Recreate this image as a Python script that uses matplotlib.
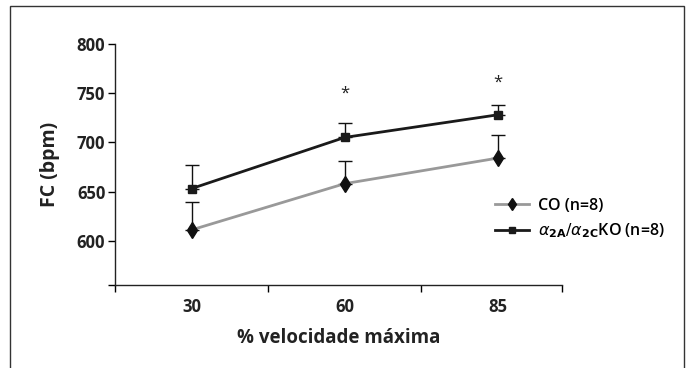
import numpy as np
import matplotlib.pyplot as plt
from matplotlib.patches import Rectangle

velocidade = ['30', '60', '85']
co_mean = [611, 658, 684]
co_err = [28, 23, 23]
ko_mean = [653, 705, 728]
ko_err = [24, 15, 10]
star_pos = [1, 2]
star_y = [750, 761]

plt.rcParams['font.family'] = ['Open Sans', 'DejaVu Sans']

fig = plt.figure(figsize=(6.89, 3.68), dpi=100)
ax = fig.add_axes([115/689, 1-285/368, (562-115)/689, (285-44)/368])

x = np.arange(len(velocidade))

ax.errorbar(x, co_mean, yerr=[np.zeros(3), co_err], fmt='none', ecolor='#111111',
            elinewidth=1, capsize=5, capthick=1, zorder=2)
ax.errorbar(x, ko_mean, yerr=[np.zeros(3), ko_err], fmt='none', ecolor='#111111',
            elinewidth=1, capsize=5, capthick=1, zorder=2)
ax.plot(x, co_mean, color='#999999', lw=2, marker='d', ms=8, mfc='#111111', mec='#111111',
        label='CO (n=8)', zorder=3)
ax.plot(x, ko_mean, color='#1a1a1a', lw=2, marker='s', ms=6, mfc='#1a1a1a', mec='#1a1a1a',
        label=r'$\alpha_{\mathbf{2A}}/\alpha_{\mathbf{2C}}$KO (n=8)', zorder=3)

for p, yv in zip(star_pos, star_y):
    ax.text(p, yv, '*', ha='center', va='center', fontsize=12, color='#222222')

ax.set_xlim(-0.5, 2.42)
ax.set_ylim(555, 800)
ax.set_xticks([-0.5, 0.5, 1.5, 2.42])
ax.set_xticklabels([])
ax.set_xticks(x, minor=True)
ax.set_xticklabels(velocidade, minor=True, fontsize=12, fontweight='bold', color='#222222')
ax.tick_params(axis='x', which='minor', length=0, pad=9)
ax.tick_params(axis='x', which='major', length=5, width=1, direction='out')
ax.set_yticks([555, 600, 650, 700, 750, 800])
ax.set_yticklabels(['', '600', '650', '700', '750', '800'], fontsize=12, fontweight='bold',
                   color='#222222')
ax.tick_params(axis='y', length=5, width=1, pad=2)

for s in ['top', 'right']:
    ax.spines[s].set_visible(False)
for s in ['left', 'bottom']:
    ax.spines[s].set_linewidth(1)
    ax.spines[s].set_color('#222222')

ax.set_ylabel('FC (bpm)', fontsize=14, fontweight='bold', color='#222222', labelpad=12)
ax.set_xlabel('% velocidade máxima', fontsize=13.5, fontweight='bold', color='#222222', labelpad=9)

fig.legend(loc='center left', bbox_to_anchor=(495/689, 1-219/368), frameon=False,
           prop={'size': 11.5, 'weight': 'semibold'}, handlelength=2.1, handletextpad=0.6,
           labelspacing=0.45, borderpad=0, borderaxespad=0, markerscale=0.8)

fig.add_artist(Rectangle((10/689, -0.1), 674/689, 1.1-6/368, fill=False,
                         ec='#333333', lw=1, transform=fig.transFigure))

fig.savefig('out.png', dpi=100)
